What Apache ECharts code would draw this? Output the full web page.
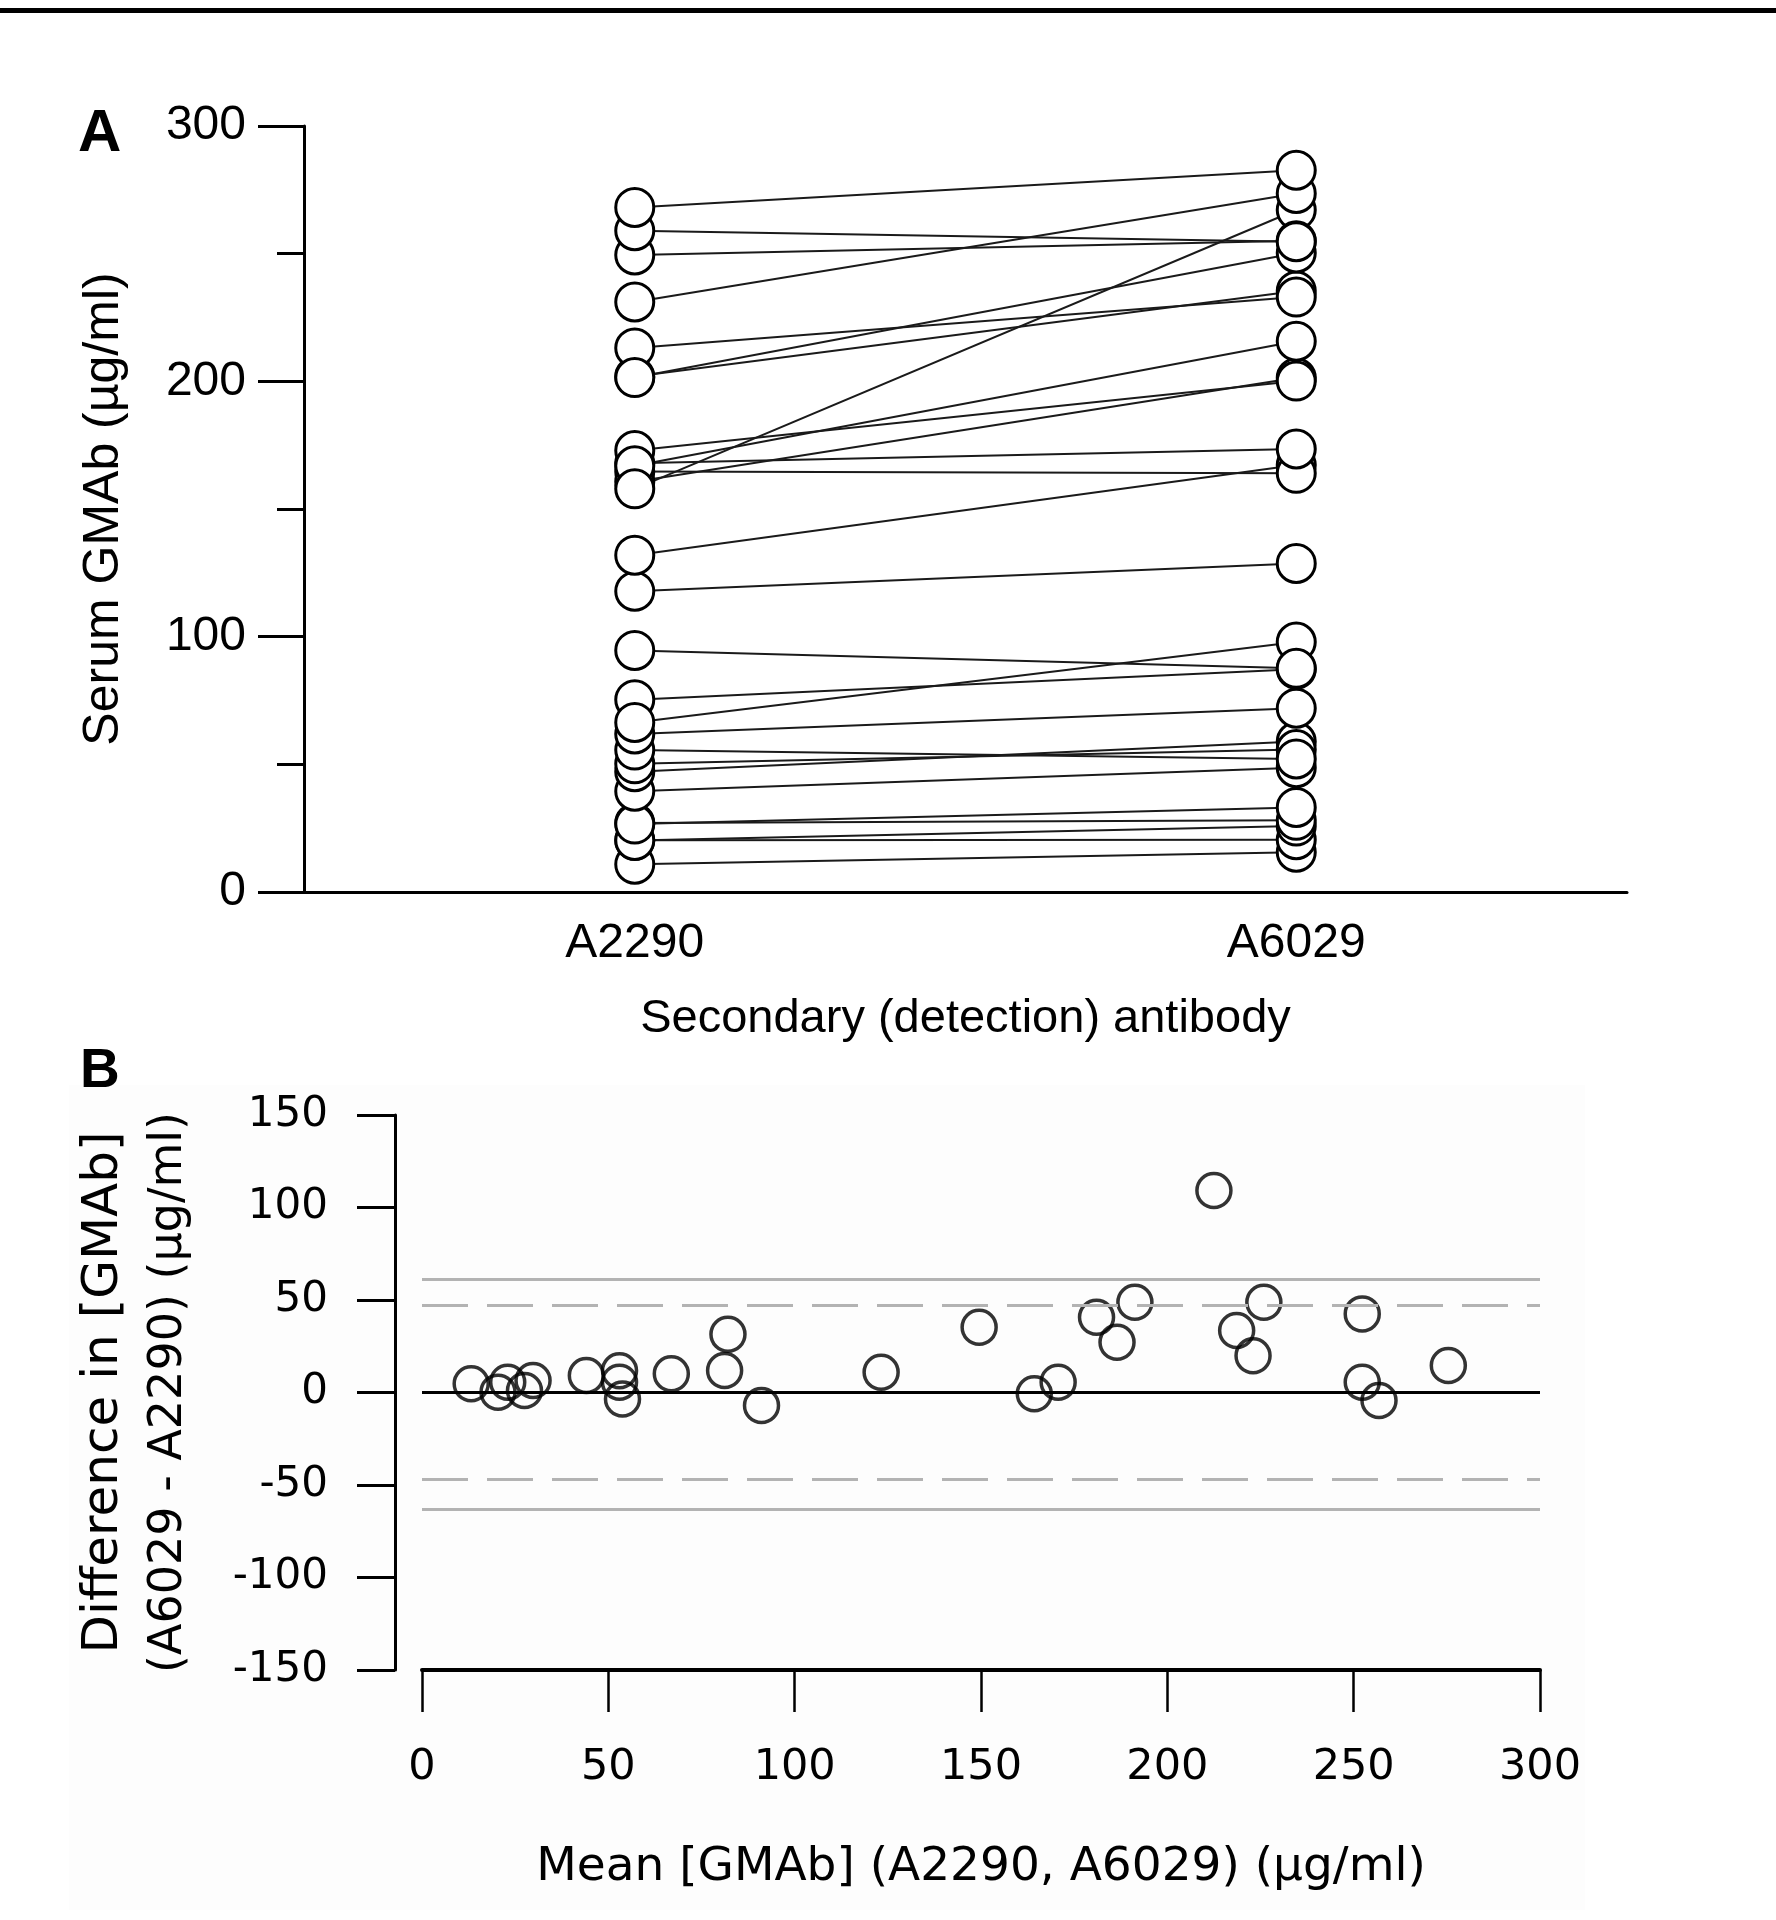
<!DOCTYPE html>
<html>
<head>
<meta charset="utf-8">
<script src="https://cdn.jsdelivr.net/npm/echarts@6/dist/echarts.min.js"></script>
<style>
html,body{margin:0;padding:0;background:#fff;}
#chart{width:1776px;height:1920px;}
</style>
</head>
<body>
<div id="chart"></div>
<script>
// Panel A: categories and paired values (µg/ml)
const categories = ['A2290', 'A6029'];
const a2290 = [10.9, 20.3, 20.2, 27.0, 26.6, 39.5, 47.1, 50.2, 55.6, 61.9, 75.3, 66.4, 94.6, 117.8,
  131.9, 164.7, 167.9, 160.7, 172.9, 166.9, 157.9, 201.9, 213.1, 201.5, 231.1, 249.5, 259.0, 268.1];
const a6029 = [15.6, 20.5, 25.8, 28.1, 33.1, 48.7, 58.9, 55.8, 52.1, 72.0, 87.2, 97.9, 87.6, 128.7,
  167.2, 164.0, 173.5, 201.4, 200.1, 215.7, 267.1, 235.4, 233.0, 250.3, 273.6, 255.1, 254.7, 282.7];
// Panel B: Bland-Altman (mean, difference)
const meanVals = [13.2, 20.4, 23.0, 27.5, 29.8, 44.1, 53.0, 53.0, 53.8, 66.9, 81.2, 82.1, 91.1, 123.2,
  149.5, 164.3, 170.7, 181.0, 186.5, 191.3, 212.5, 218.6, 223.0, 225.9, 252.3, 252.3, 256.8, 275.4];
const diffVals = [4.7, 0.2, 5.6, 1.1, 6.5, 9.2, 11.8, 5.6, -3.5, 10.1, 11.9, 31.5, -7.0, 10.9,
  35.3, -0.7, 5.6, 40.7, 27.2, 48.8, 109.2, 33.5, 19.9, 48.8, 42.5, 5.6, -4.3, 14.6];
const zeroLine = [0];
const limitSolid = [61, -63];
const limitDashed = [47, -47];

const chart = echarts.init(document.getElementById('chart'), null, {renderer: 'canvas'});

const fontA = 'Liberation Sans, Arial, sans-serif';
const fontB = 'DejaVu Sans, sans-serif';

const series = [];
for (let i = 0; i < a2290.length; i++) {
  series.push({
    type: 'line', xAxisIndex: 0, yAxisIndex: 0,
    data: [a2290[i], a6029[i]],
    symbol: 'none',
    lineStyle: {color: '#1a1a1a', width: 2},
    z: 2, silent: true
  });
}
const scatterA = [];
a2290.forEach(v => scatterA.push([0, v]));
a6029.forEach(v => scatterA.push([1, v]));
series.push({
  type: 'scatter', xAxisIndex: 0, yAxisIndex: 0,
  data: scatterA,
  symbol: 'circle', symbolSize: 38,
  itemStyle: {color: '#ffffff', borderColor: '#000', borderWidth: 3, opacity: 1},
  z: 4, silent: true
});

const markData = [];
zeroLine.forEach(v => markData.push({yAxis: v, lineStyle: {color: '#000', width: 3, type: 'solid'}}));
limitSolid.forEach(v => markData.push({yAxis: v, lineStyle: {color: '#b3b3b3', width: 3, type: 'solid'}}));
limitDashed.forEach(v => markData.push({yAxis: v, lineStyle: {color: '#b3b3b3', width: 3, type: [46, 19]}}));

series.push({
  type: 'scatter', xAxisIndex: 1, yAxisIndex: 1,
  data: meanVals.map((m, i) => [m, diffVals[i]]),
  symbol: 'circle', symbolSize: 34,
  itemStyle: {color: 'rgba(0,0,0,0)', borderColor: '#000', borderWidth: 3.5},
  z: 4, silent: true,
  markLine: {
    silent: true, symbol: ['none', 'none'], label: {show: false},
    emphasis: {disabled: true},
    data: markData
  }
});

const option = {
  animation: false,
  backgroundColor: '#ffffff',
  graphic: [
    {type: 'rect', shape: {x: 0, y: 8, width: 1776, height: 5}, style: {fill: '#000'}},
    {type: 'rect', z: -10, shape: {x: 69, y: 1085, width: 1516, height: 825}, style: {fill: '#fdfdfd'}},
    {type: 'text', left: 78, top: 104, style: {text: 'A', font: 'bold 60px ' + fontA, fill: '#000'}},
    {type: 'text', left: 80, top: 1044, style: {text: 'B', font: 'bold 55px ' + fontA, fill: '#000'}}
  ],
  grid: [
    {left: 304, top: 126, width: 1323, height: 766},
    {left: 422, top: 1115, width: 1118, height: 555}
  ],
  xAxis: [
    {
      gridIndex: 0, type: 'category', data: categories, boundaryGap: true,
      axisLine: {show: true, lineStyle: {color: '#000', width: 3}},
      axisTick: {show: false},
      axisLabel: {fontFamily: fontA, fontSize: 48, color: '#000', margin: 28},
      splitLine: {show: false},
      name: 'Secondary (detection) antibody', nameLocation: 'middle', nameGap: 104,
      nameTextStyle: {fontFamily: fontA, fontSize: 47, color: '#000'}
    },
    {
      gridIndex: 1, type: 'value', min: 0, max: 300, interval: 50,
      splitLine: {show: false},
      axisLine: {show: true, onZero: false, lineStyle: {color: '#000', width: 4}},
      axisTick: {show: true, length: 42, lineStyle: {color: '#000', width: 2.5}},
      axisLabel: {fontFamily: fontB, fontSize: 43, color: '#000', margin: 76},
      name: 'Mean [GMAb] (A2290, A6029) (µg/ml)', nameLocation: 'middle', nameGap: 174,
      nameTextStyle: {fontFamily: fontB, fontSize: 47, color: '#000'}
    }
  ],
  yAxis: [
    {
      gridIndex: 0, type: 'value', min: 0, max: 300, interval: 100,
      splitLine: {show: false},
      axisLine: {show: true, lineStyle: {color: '#000', width: 3}},
      axisTick: {show: true, length: 46, lineStyle: {color: '#000', width: 3}},
      minorTick: {show: true, splitNumber: 2, length: 27, lineStyle: {color: '#000', width: 3}},
      minorSplitLine: {show: false},
      axisLabel: {fontFamily: fontA, fontSize: 48, color: '#000', margin: 58},
      name: 'Serum GMAb (µg/ml)', nameLocation: 'middle', nameGap: 175,
      nameTextStyle: {fontFamily: fontA, fontSize: 50, color: '#000'}
    },
    {
      gridIndex: 1, type: 'value', min: -150, max: 150, interval: 50, offset: 27,
      splitLine: {show: false},
      axisLine: {show: true, onZero: false, lineStyle: {color: '#000', width: 3}},
      axisTick: {show: true, length: 38, lineStyle: {color: '#000', width: 3}},
      axisLabel: {fontFamily: fontB, fontSize: 42, color: '#000', margin: 67},
      name: '{a|Difference in [GMAb]}\n{b|(A6029 - A2290) (µg/ml)}', nameLocation: 'middle', nameGap: 193,
      nameTextStyle: {
        fontFamily: fontB, fontSize: 46, color: '#000', lineHeight: 65,
        rich: {
          a: {fontFamily: fontB, fontSize: 50, color: '#000', lineHeight: 65},
          b: {fontFamily: fontB, fontSize: 46, color: '#000', lineHeight: 65}
        }
      }
    }
  ],
  series: series
};
chart.setOption(option);
</script>
</body>
</html>
